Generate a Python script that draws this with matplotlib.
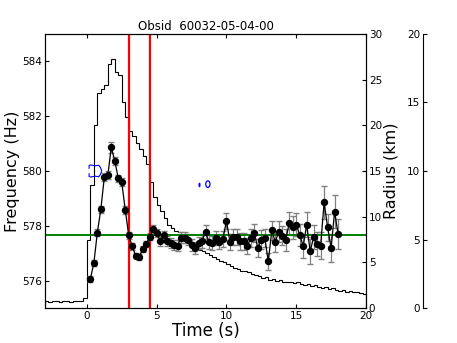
import numpy as np
import matplotlib
matplotlib.use('Agg')
import matplotlib.pyplot as plt
from matplotlib.patches import Ellipse

# QPO frequency track (time in s, frequency in Hz)
times = [0.25, 0.5, 0.75, 1.0, 1.25, 1.5, 1.75, 2.0, 2.25, 2.5, 2.75, 3.0,
         3.25, 3.5, 3.75, 4.0, 4.25, 4.5, 4.75, 5.0, 5.25, 5.5, 5.75, 6.0,
         6.25, 6.5, 6.75, 7.0, 7.25, 7.5, 7.75, 8.0, 8.25, 8.5, 8.75, 9.0,
         9.25, 9.5, 9.75, 10.0, 10.25, 10.5, 10.75, 11.0, 11.25, 11.5, 11.75, 12.0,
         12.25, 12.5, 12.75, 13.0, 13.25, 13.5, 13.75, 14.0, 14.25, 14.5, 14.75, 15.0,
         15.25, 15.5, 15.75, 16.0, 16.25, 16.5, 16.75, 17.0, 17.25, 17.5, 17.75, 18.0]
freq = [576.06, 576.64, 577.75, 578.60, 579.77, 579.84, 580.86, 580.37, 579.73, 579.59,
        578.58, 577.65, 577.25, 576.91, 576.86, 577.15, 577.33, 577.60,
        577.88, 577.73, 577.45, 577.66, 577.43, 577.37, 577.31, 577.28, 577.57, 577.57,
        577.49, 577.31, 577.19, 577.37, 577.45, 577.77, 577.41, 577.37, 577.55, 577.41,
        577.52, 578.18, 577.41, 577.59, 577.59, 577.43, 577.43, 577.27, 577.55, 577.73,
        577.19, 577.49, 577.55, 576.70, 577.83, 577.41, 577.79, 577.64, 577.49, 578.10,
        577.94, 578.04, 577.67, 577.25, 578.04, 577.07, 577.59, 577.33, 577.28, 578.86,
        577.94, 577.19, 578.52, 577.70]
freq_err = [0.12, 0.12, 0.12, 0.14, 0.14, 0.15, 0.20, 0.15, 0.14, 0.14,
            0.14, 0.12, 0.12, 0.10, 0.10, 0.10, 0.12, 0.12,
            0.15, 0.15, 0.18, 0.15, 0.18, 0.18, 0.18, 0.20, 0.20, 0.20,
            0.20, 0.22, 0.22, 0.22, 0.25, 0.25, 0.25, 0.25, 0.25, 0.25,
            0.28, 0.30, 0.28, 0.28, 0.30, 0.30, 0.30, 0.30, 0.32, 0.32,
            0.32, 0.35, 0.32, 0.30, 0.35, 0.35, 0.38, 0.35, 0.40, 0.42,
            0.42, 0.42, 0.40, 0.42, 0.45, 0.45, 0.45, 0.45, 0.48, 0.60,
            0.50, 0.50, 0.60, 0.55]

# light curve, 0.25 s bins starting at -3 s (plotted on the radius scale)
lc_start = -3.0
lc_bin = 0.25
lc = [0.75, 0.70, 0.80, 0.75, 0.70, 0.80, 0.75, 0.70, 0.80, 0.75, 0.80, 1.10,
      7.5, 13.5, 20.0, 23.5, 24.0, 24.4, 26.7, 27.3, 25.8, 25.5, 22.6, 20.9,
      19.4, 18.8, 18.1, 17.4, 16.6, 15.8,
      13.8, 12.2, 11.3, 10.6, 9.9, 9.1, 8.8, 8.4, 8.3, 8.0, 7.6, 7.2,
      6.9, 6.8, 6.4, 6.2, 6.0, 5.8, 5.6, 5.4, 5.1, 5.0, 4.8, 4.6,
      4.4, 4.3, 4.1, 4.0, 3.9, 3.7, 3.6, 3.5, 3.3, 3.4, 3.1, 3.2,
      3.0, 3.1, 2.9, 2.8, 2.9, 2.7, 2.8, 2.6, 2.5, 2.6, 2.4, 2.5,
      2.3, 2.2, 2.3, 2.1, 2.2, 2.0, 1.9, 2.0, 1.8, 1.9, 1.7, 1.8,
      1.6, 1.5]

burst_marks = [3.0, 4.5]
mean_freq = 577.67

# blue contour fragments
cont_t = [0.16, 0.16, 0.25, 0.60, 0.85, 0.98, 1.05]
cont_up = [580.10, 580.20, 580.22, 580.19, 580.21, 580.12, 580.02]
cont_lo = [579.90, 579.80, 579.78, 579.81, 579.79, 579.88, 579.98]
blobs = [(8.07, 579.49, 0.06, 0.12), (8.67, 579.52, 0.30, 0.24)]

plt.rcParams['xtick.direction'] = 'in'
plt.rcParams['ytick.direction'] = 'in'

fig = plt.figure(figsize=(4.57, 3.43), dpi=100)
ax = fig.add_axes([45 / 457, 35 / 343, 321 / 457, 274 / 343])
ax2 = ax.twinx()
ax.set_zorder(ax2.get_zorder() + 1)
ax.patch.set_visible(False)

edges = lc_start + lc_bin * np.arange(len(lc) + 1)
ax2.stairs(lc, edges, color='black', lw=0.8)
ax2.set_ylim(0, 30)
ax2.set_yticks([0, 5, 10, 15, 20, 25, 30])
ax2.tick_params(labelsize=7.5, length=3, pad=2)
ax2.set_ylabel('Radius (km)', fontsize=11.5, labelpad=1)

ax.errorbar(times, freq, yerr=freq_err, fmt='o-', color='black', ms=4.3, lw=0.9,
            ecolor='gray', elinewidth=0.9, capsize=2)
for t in burst_marks:
    ax.axvline(t, color='red', lw=1.6)
ax.axhline(mean_freq, color='green', lw=1.4)

ax.plot(cont_t, cont_up, color='blue', lw=0.8)
ax.plot(cont_t, cont_lo, color='blue', lw=0.8)
for cx, cy, w, h in blobs:
    ax.add_patch(Ellipse((cx, cy), w, h, fill=False, ec='blue', lw=0.9))

ax.set_xlim(-3, 20)
ax.set_ylim(575, 585)
ax.set_xticks([0, 5, 10, 15, 20])
ax.set_yticks([576, 578, 580, 582, 584])
ax.tick_params(labelsize=7.5, length=3, top=True, pad=2)
ax.set_xlabel('Time (s)', fontsize=12, labelpad=1)
ax.set_ylabel('Frequency (Hz)', fontsize=11.5, labelpad=2)
ax.set_title('Obsid  60032-05-04-00', fontsize=8.5, pad=3)

# extra scale on the far right
ax3 = fig.add_axes([423 / 457, 35 / 343, 0.001, 274 / 343])
ax3.patch.set_visible(False)
for s in ['top', 'right', 'bottom']:
    ax3.spines[s].set_visible(False)
ax3.set_xticks([])
ax3.set_ylim(0, 20)
ax3.set_yticks([0, 5, 10, 15, 20])
ax3.tick_params(labelsize=7.5, length=3, pad=2)

fig.savefig('out.png', dpi=100)
